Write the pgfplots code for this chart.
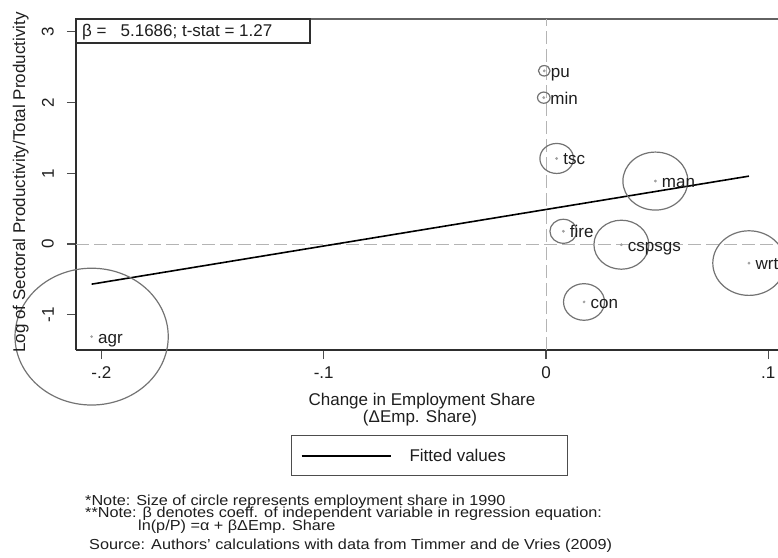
\documentclass[border=0pt]{standalone}
\usepackage{graphicx}
\usepackage{pgfplots}
\usepackage{pgfplotstable}
\pgfplotsset{compat=1.18}
\usepackage{fontspec}
\setmainfont{Liberation Sans}
\definecolor{circ}{HTML}{737373}
\definecolor{dotc}{HTML}{A0A0A0}
\definecolor{dashc}{HTML}{B4B4B4}
\definecolor{axc}{HTML}{2E2E2E}
\definecolor{txt}{HTML}{1E1E1E}
\newcommand{\bigf}{\fontsize{17}{20}\selectfont}
\newcommand{\notef}{\fontsize{14.5}{16}\selectfont}

% sector: x, y, circle radius (pt), label
\pgfplotstableread{
x y r lab
-0.2044 -1.31 68.4 agr
-0.0008 2.45 5.2 pu
-0.0010 2.07 5.6 min
0.0048 1.21 15 tsc
0.0492 0.89 29 man
0.0078 0.18 12 fire
0.0339 -0.01 24.5 cspsgs
0.0913 -0.27 32.3 wrt
0.0171 -0.82 18.3 con
}\sectors

\newcommand{\sector}[4]{%
  \addplot[only marks, mark=o, mark size=#3pt, draw=circ, forget plot,
    mark options={xscale=1.12, line width=1.2pt, draw=circ},
    nodes near coords={#4},
    every node near coord/.append style={anchor=base west, xshift=6pt, yshift=-6.5pt, inner sep=0pt, font=\bigf, text=txt}]
    coordinates {(#1,#2)};}

\begin{document}
\begin{tikzpicture}
\path[use as bounding box] (0,0) rectangle (778pt,557pt);
\begin{axis}[
  at={(76pt,207pt)}, anchor=south west,
  scale only axis, width=702pt, height=331pt,
  xmin=-0.21143, xmax=0.10436, ymin=-1.4993, ymax=3.1825,
  axis lines=left,
  axis line style={-, draw=axc, line width=1.2pt},
  tick align=outside,
  major tick length=9pt,
  tick style={draw=axc!85, line width=1.1pt},
  xtick={-0.2,-0.1,0,0.1}, xticklabels={-.2,-.1,0,.1},
  ytick={-1,0,1,2,3}, yticklabels={-1,0,1,2,3},
  ticklabel style={font=\bigf, text=txt},
  xticklabel style={yshift=-4pt},
  yticklabel style={rotate=90, anchor=south, inner ysep=13pt},
  clip=false,
  legend style={at={(axis description cs:0.5036,-0.3202)}, anchor=center,
    draw=axc!85, line width=1pt, inner sep=0pt, font=\bigf, text=txt, fill=white},
  legend image code/.code={\path[draw=none, fill=none] (0pt,-20pt) rectangle (116pt,20pt); \draw[#1] (10pt,0pt) -- (99pt,0pt);},
  legend cell align=left,
]
\draw[axc!75, line width=1.1pt] (rel axis cs:0,1) -- (rel axis cs:1,1);
\addplot[dashc, line width=1pt, dash pattern=on 13pt off 5pt, forget plot] coordinates {(0,-1.4993) (0,3.1825)};
\addplot[dashc, line width=1pt, dash pattern=on 13pt off 5pt, forget plot] coordinates {(-0.21143,0) (0.10436,0)};
\sector{-0.2044}{-1.31}{68.4}{agr}
\sector{-0.0008}{2.45}{5.2}{pu}
\sector{-0.0010}{2.07}{5.6}{min}
\sector{0.0048}{1.21}{15}{tsc}
\sector{0.0492}{0.89}{29}{man}
\sector{0.0078}{0.18}{12}{fire}
\sector{0.0339}{-0.01}{24.5}{cspsgs}
\sector{0.0913}{-0.27}{32.3}{wrt}
\sector{0.0171}{-0.82}{18.3}{con}
\addplot[only marks, mark=*, mark size=1.2pt, color=dotc, forget plot] table[x=x, y=y] {\sectors};
\addplot[black, line width=1.6pt] coordinates {(-0.2044,-0.568) (0.0913,0.960)};
\addlegendentry{\makebox[156pt][l]{Fitted values}}
\end{axis}
% title box
\draw[axc, line width=1.1pt, fill=white] (76pt,514pt) rectangle (310pt,538pt);
\node[anchor=base west, inner sep=0pt, font=\bigf, text=txt] at (82pt,520.3pt) {β =\hspace{14pt}5.1686; t-stat = 1.27};
% axis titles
\node[anchor=base, inner sep=0pt, font=\bigf, text=txt] at (422pt,152pt) {Change in Employment Share};
\node[anchor=base, inner sep=0pt, font=\bigf, text=txt] at (420pt,135pt) {(ΔEmp. Share)};
\node[rotate=90, anchor=base, inner sep=0pt, font=\bigf, text=txt] at (25pt,374.5pt) {Log of Sectoral Productivity/Total Productivity};
% notes
\node[anchor=base west, inner sep=0pt, font=\notef, text=txt] at (85pt,52pt) {\scalebox{1.12}[1]{*Note: Size of circle represents employment share in 1990}};
\node[anchor=base west, inner sep=0pt, font=\notef, text=txt] at (85pt,39.5pt) {\scalebox{1.12}[1]{**Note: β denotes coeff. of independent variable in regression equation:}};
\node[anchor=base west, inner sep=0pt, font=\notef, text=txt] at (138pt,27pt) {\scalebox{1.12}[1]{ln(p/P) =α + βΔEmp. Share}};
\node[anchor=base west, inner sep=0pt, font=\notef, text=txt] at (89pt,8pt) {\scalebox{1.12}[1]{Source: Authors' calculations with data from Timmer and de Vries (2009)}};
\end{tikzpicture}
\end{document}
